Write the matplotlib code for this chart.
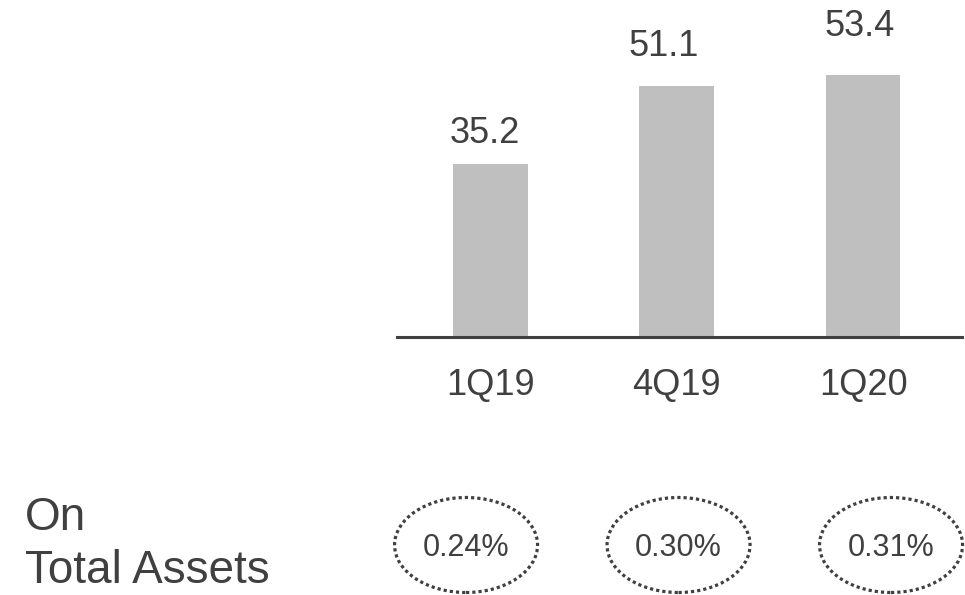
#%% Imports
import matplotlib
matplotlib.use("Agg")
import matplotlib.pyplot as plt
from matplotlib.patches import Ellipse

#%% Data
kvartaler = ["1Q19", "4Q19", "1Q20"]
verdier = [35.2, 51.1, 53.4]
andel_tekst = ["0.24%", "0.30%", "0.31%"]
venstre_linje1 = "On"
venstre_linje2 = "Total Assets"

#%% Style
farge_tekst = "#404040"
farge_stolpe = "#BFBFBF"
plt.rcParams["font.family"] = ["Liberation Sans", "DejaVu Sans"]

# offset (points) of each value label from its bar top: (dx, dy)
label_dx = [-3.6, -9.4, -2.2]
label_dy = [15, 21.5, 28]


def plott():
    W, H = 965, 595
    fig = plt.figure(figsize=(W / 100, H / 100), dpi=100)

    # Bar axes, placed in pixel units of the figure
    ax = fig.add_axes([397 / W, 1 - 337 / H, (962 - 397) / W, 337 / H])
    x = list(range(len(kvartaler)))
    ax.bar(x, verdier, width=0.4, color=farge_stolpe, zorder=2)
    ax.set_xlim(-0.5, 2.53)
    ax.set_ylim(0, 68.6)

    # value labels above each bar
    for i, v in enumerate(verdier):
        ax.annotate(f"{v:.1f}", (x[i], v), xytext=(label_dx[i], label_dy[i]),
                    textcoords="offset points", ha="center", va="baseline",
                    fontsize=26, color=farge_tekst)

    # only the bottom line is kept
    for side in ["top", "left", "right"]:
        ax.spines[side].set_visible(False)
    ax.spines["bottom"].set_color(farge_tekst)
    ax.spines["bottom"].set_linewidth(2.2)
    ax.spines["bottom"].set_zorder(3)
    ax.set_yticks([])
    ax.set_xticks(x)
    ax.set_xticklabels(kvartaler, fontsize=26, color=farge_tekst)
    ax.tick_params(axis="x", length=0, pad=22)

    # Lower row with dotted ellipses
    ax2 = fig.add_axes([380 / W, 0, (965 - 380) / W, 100 / H])
    ax2.set_xlim(-0.405, 2.348)
    ax2.set_ylim(0, 100)
    ax2.axis("off")
    for i, t in enumerate(andel_tekst):
        e = Ellipse((i, 50), width=143 / 212.5, height=95, fill=False,
                    edgecolor=farge_tekst, linewidth=2.3,
                    linestyle=(0, (1, 0.95)), clip_on=False)
        ax2.add_patch(e)
        ax2.text(i, 47, t, ha="center", va="center", fontsize=22,
                 color=farge_tekst)

    # Left label
    fig.text(25 / W, 1 - 530 / H, venstre_linje1, fontsize=33,
             color=farge_tekst, ha="left", va="baseline")
    fig.text(25 / W, 1 - 583 / H, venstre_linje2, fontsize=33,
             color=farge_tekst, ha="left", va="baseline")

    fig.savefig("out.png", dpi=100)


#%% Main
if __name__ == "__main__":
    plott()
